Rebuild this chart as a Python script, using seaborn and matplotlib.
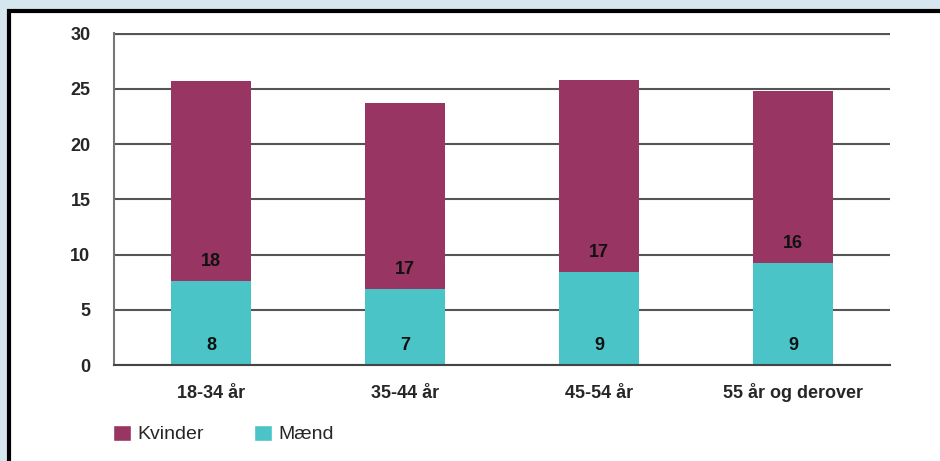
import numpy as np
import pandas as pd
import matplotlib
matplotlib.use('Agg')
import matplotlib.pyplot as plt
from matplotlib.patches import Rectangle, Patch
import seaborn as sns

# data
categories = ['18-34 år', '35-44 år', '45-54 år', '55 år og derover']
maend = [7.6, 6.9, 8.4, 9.25]
kvinder = [18.1, 16.8, 17.4, 15.55]
maend_labels = ['8', '7', '9', '9']
kvinder_labels = ['18', '17', '17', '16']
yticks = [0, 5, 10, 15, 20, 25, 30]

C_KV = '#983563'
C_MA = '#4AC4C6'

df = pd.DataFrame({'alder': categories, 'maend': maend, 'kvinder': kvinder})
df['total'] = df['maend'] + df['kvinder']

sns.set_style('white')
plt.rcParams['font.family'] = ['Liberation Sans', 'DejaVu Sans']

fig = plt.figure(figsize=(9.4, 4.61), dpi=100)
fig.patch.set_facecolor('#d5e6ef')
# white panel with black frame (runs off right/bottom edge)
fig.patches.append(Rectangle((9 / 940, -0.05), 1.1, 1 - 11 / 461 + 0.05,
                             transform=fig.transFigure, facecolor='white',
                             edgecolor='black', lw=3, zorder=-1))

ax = fig.add_axes([114 / 940, 1 - 365 / 461, (890 - 114) / 940, (365 - 33) / 461])
ax.set_facecolor('none')

# stacked bars: total in Kvinder colour, Mænd drawn over the bottom part
sns.barplot(data=df, x='alder', y='total', color=C_KV, saturation=1, width=0.41,
            linewidth=0, ax=ax)
sns.barplot(data=df, x='alder', y='maend', color=C_MA, saturation=1, width=0.41,
            linewidth=0, ax=ax)

for i in range(len(categories)):
    ax.text(i, maend[i] + 1.75, kvinder_labels[i], ha='center', va='center',
            fontsize=13, fontweight='bold', color='#111111')
    ax.text(i, 1.75, maend_labels[i], ha='center', va='center',
            fontsize=13, fontweight='bold', color='#111111')

ax.set_xlim(-0.5, 3.5)
ax.set_ylim(0, 30.05)
ax.set_xlabel('')
ax.set_ylabel('')
ax.set_yticks(yticks)
ax.set_yticklabels([str(v) for v in yticks], fontsize=13, fontweight='bold')
ax.tick_params(axis='y', length=6, width=1.2, color='#555555', pad=11)

ax.set_xticks(range(len(categories)))
ax.set_xticklabels(categories, fontsize=13, fontweight='bold')
for t in ax.get_xticklabels():
    t.set_va('baseline')
ax.tick_params(axis='x', which='major', length=0, pad=24)
ax.set_xticks([-0.5, 0.5, 1.5, 2.5, 3.5], minor=True)
ax.tick_params(axis='x', which='minor', length=6, width=1.2, color='#555555')

ax.yaxis.grid(True, color='#555555', lw=1.5)
ax.axhline(30, color='#1a1a1a', lw=1.5, zorder=0.5)
ax.set_axisbelow(True)
for s in ['top', 'right']:
    ax.spines[s].set_visible(False)
ax.spines['left'].set_color('#777777')
ax.spines['left'].set_linewidth(1.5)
ax.spines['bottom'].set_color('#444444')
ax.spines['bottom'].set_linewidth(1.5)

handles = [Patch(facecolor=C_KV, label='Kvinder'), Patch(facecolor=C_MA, label='Mænd')]
fig.legend(handles=handles, loc='center left', bbox_to_anchor=(113 / 940, 1 - 434 / 461),
           ncol=2, frameon=False, fontsize=14, handlelength=0.93, handleheight=0.93,
           handletextpad=0.3, columnspacing=2.6, borderpad=0, borderaxespad=0)

fig.savefig('out.png', dpi=100)
